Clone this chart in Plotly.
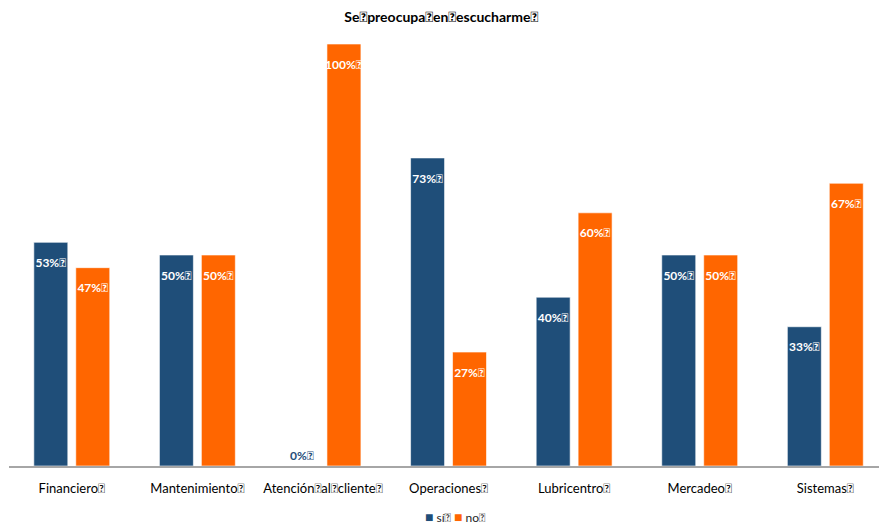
import plotly.graph_objects as go

T = "\ue000"
categories = ["Financiero", "Mantenimiento", "Atención al cliente", "Operaciones", "Lubricentro", "Mercadeo", "Sistemas"]
si_vals = [0.53, 0.50, 0.00, 0.73, 0.40, 0.50, 0.33]
no_vals = [0.47, 0.50, 1.00, 0.27, 0.60, 0.50, 0.67]
title_text = "Se preocupa en escucharme"
series_names = ["sí", "no"]

def tofu(s):
    return s.replace(" ", T) + T

cats = [tofu(c) for c in categories]
font_family = "Lato, 'Open Sans', sans-serif"
blue = "#1F4E79"
orange = "#FF6600"
series = [(series_names[0], si_vals, blue), (series_names[1], no_vals, orange)]

def label(v):
    s = f"{round(v*100)}%{T}"
    if v > 0:
        return '<span style="font-size:6px"> </span><br>' + s
    return s

fig = go.Figure()
for name, vals, color in series:
    fig.add_trace(go.Bar(
        x=cats, y=vals, name=tofu(name),
        marker=dict(color=color, line=dict(color="rgba(255,255,255,0.6)", width=1)),
        text=[label(v) for v in vals],
        textposition=["inside" if v > 0 else "outside" for v in vals],
        insidetextanchor="end",
        constraintext="none",
        textangle=0,
        textfont=dict(family=font_family, size=12, color=["white" if v > 0 else blue for v in vals], weight="bold"),
        cliponaxis=False,
        showlegend=False,
    ))

legend_text = " ".join(
    f'<span style="color:{c};font-size:14px">■</span> {tofu(n)}' for n, _, c in series
)
fig.add_annotation(text=legend_text, xref="paper", yref="paper", x=0.513, y=-0.1185,
                   xanchor="center", yanchor="middle", showarrow=False,
                   font=dict(family=font_family, size=12, color="#262626"))

fig.update_layout(
    width=879, height=524, autosize=False,
    margin=dict(l=9, r=0, t=44, b=58),
    paper_bgcolor="white", plot_bgcolor="white",
    barmode="group", bargap=0.332, bargroupgap=0.19,
    title=dict(text="<b>" + tofu(title_text) + "</b>", x=0.502, xanchor="center", y=0.967, yanchor="middle",
               font=dict(family=font_family, size=14, color="#000000")),
    font=dict(family=font_family, size=13, color="#000000"),
    showlegend=False,
    xaxis=dict(range=[-0.5, 6.4275], showline=True, linecolor="#A6A6A6", linewidth=1.5,
               ticks="", ticklabelstandoff=10, automargin=False,
               tickfont=dict(family=font_family, size=13, color="#000000"), showgrid=False),
    yaxis=dict(range=[0, 1.0], visible=False, showgrid=False, zeroline=False, automargin=False),
)

fig.write_html("out.html")
